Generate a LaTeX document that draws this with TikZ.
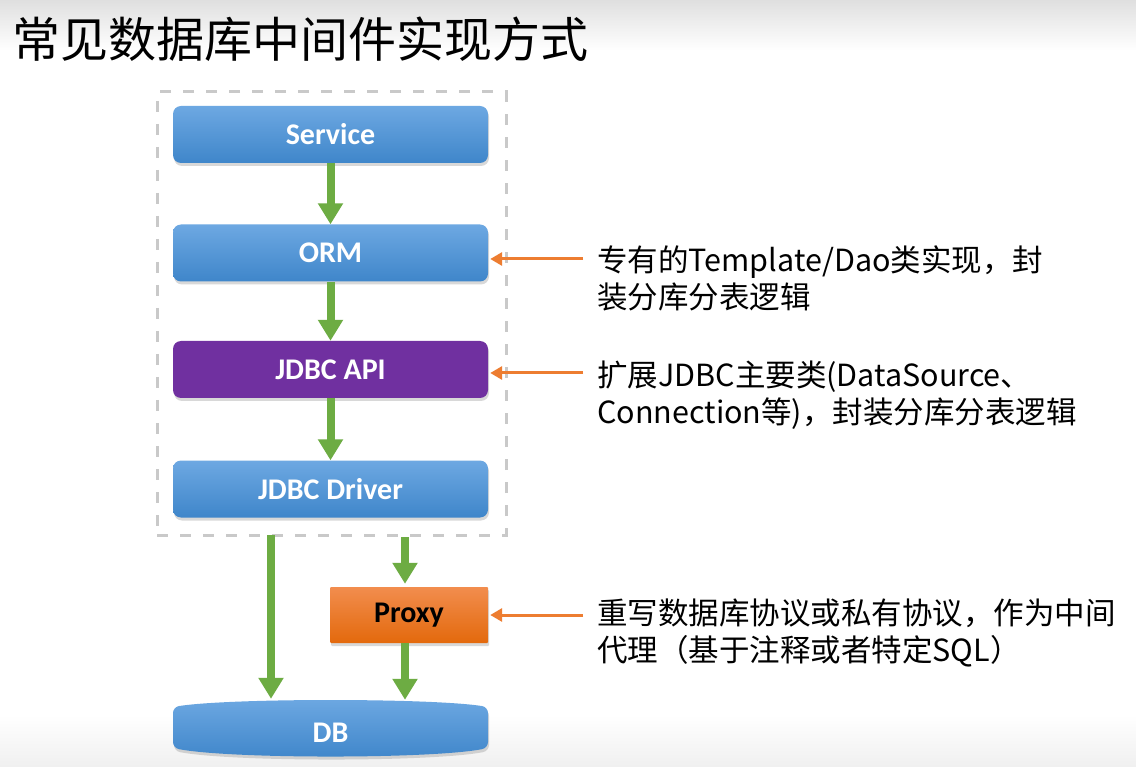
\documentclass[tikz,border=0pt]{standalone}
\usepackage{fontspec}
\setmainfont{Carlito}
\newfontfamily\cjk{Noto Sans CJK SC}
\newfontfamily\boxfont{Carlito}
\usetikzlibrary{arrows.meta,shadows,calc}
\definecolor{bluetop}{HTML}{6DA8E2}
\definecolor{bluebot}{HTML}{3F86CA}
\definecolor{purp}{HTML}{7030A0}
\definecolor{grn}{HTML}{6DAC43}
\definecolor{org}{HTML}{ED7D31}
\definecolor{orgtop}{HTML}{F28D4E}
\definecolor{orgbot}{HTML}{E3690C}
\definecolor{dashgray}{HTML}{C9C9C9}
\begin{document}
\begin{tikzpicture}[x=1pt,y=-1pt,
  labeltext/.style={inner sep=0pt, font=\boxfont\bfseries\fontsize{30}{34}\selectfont, text=white},
  layerbox/.style={labeltext, rounded corners=8pt, minimum width=315pt, minimum height=57pt,
    drop shadow={opacity=0.3,shadow xshift=1pt,shadow yshift=-3pt}},
  bluebox/.style={layerbox, top color=bluetop, bottom color=bluebot},
  purplebox/.style={layerbox, fill=purp},
  proxybox/.style={layerbox, rounded corners=1pt, minimum width=158pt, minimum height=56pt,
    top color=orgtop, bottom color=orgbot, text=black},
  framebox/.style={draw=dashgray, line width=3pt, dash pattern=on 11pt off 12pt,
    inner sep=0pt},
  greenarrow/.style={draw=grn, line width=8pt, -{Triangle[width=24pt,length=21pt]}},
  orangearrow/.style={draw=org, line width=3pt, -{Triangle[width=13pt,length=12pt]}},
  note/.style={anchor=west, align=left, inner sep=0pt, font=\cjk\fontsize{30.5}{37}\selectfont},
  titletext/.style={anchor=west, inner sep=0pt, font=\cjk\fontsize{48}{50}\selectfont}
]
\useasboundingbox (0,0) rectangle (1136,767);
\fill[white] (0,0) rectangle (1136,767);
\fill[top color=gray!25, bottom color=white] (0,0) rectangle (1136,50);
\fill[top color=white, bottom color=gray!12] (0,715) rectangle (1136,767);

\node[titletext] (title) at (12,39) {常见数据库中间件实现方式};

\node[framebox, minimum width=349pt, minimum height=443pt] (frame) at (331.5,313.5) {};

\node[bluebox] (service) at (330.5,134.5) {Service};
\node[bluebox] (orm) at (330.5,253) {ORM};
\node[purplebox] (api) at (330.5,369.5) {JDBC API};
\node[bluebox] (driver) at (330.5,489) {JDBC Driver};
\node[proxybox] (proxy) at (409,615) {Proxy};

% DB barrel
\path[rounded corners=6pt, top color=bluetop, bottom color=bluebot,
  drop shadow={opacity=0.3,shadow xshift=1pt,shadow yshift=-3pt}]
  (173,707) .. controls (230,698) and (431,698) .. (488,707) -- (488,748)
  .. controls (431,759) and (230,759) .. (173,748) -- cycle;
\node[inner sep=0pt, minimum width=315pt, minimum height=58pt] (db) at (330.5,728) {};
\node[labeltext] (dblabel) at ($(db.center)+(0,5)$) {DB};

% green connectors
\draw[greenarrow] (service.south) -- (orm.north);
\draw[greenarrow] (orm.south) -- (api.north);
\draw[greenarrow] (api.south) -- (driver.north);
\coordinate (lstart) at (271,535);
\coordinate (rstart) at (405,537);
\draw[greenarrow] (lstart) -- (lstart |- db.north);
\draw[greenarrow] (rstart) -- ($(rstart |- proxy.north)+(0,-3)$);
\coordinate (pout) at (405,643);
\draw[greenarrow] (pout) -- ($(pout |- db.north)+(0,1)$);

% notes
\node[note] (n1) at (597,278) {专有的Template/Dao类实现，封\\装分库分表逻辑};
\node[note] (n2) at (597,395) {扩展JDBC主要类(DataSource、\\Connection等)，封装分库分表逻辑};
\node[note] (n3) at (597,633) {重写数据库协议或私有协议，作为中间\\代理（基于注释或者特定SQL）};

\coordinate (t1) at (583,259);
\coordinate (t2) at (583,373);
\coordinate (t3) at (583,615);
\draw[orangearrow] (t1) -- ($(t1 -| orm.east)+(2,0)$);
\draw[orangearrow] (t2) -- ($(t2 -| api.east)+(2,0)$);
\draw[orangearrow] (t3) -- ($(t3 -| proxy.east)+(2,0)$);
\end{tikzpicture}
\end{document}
